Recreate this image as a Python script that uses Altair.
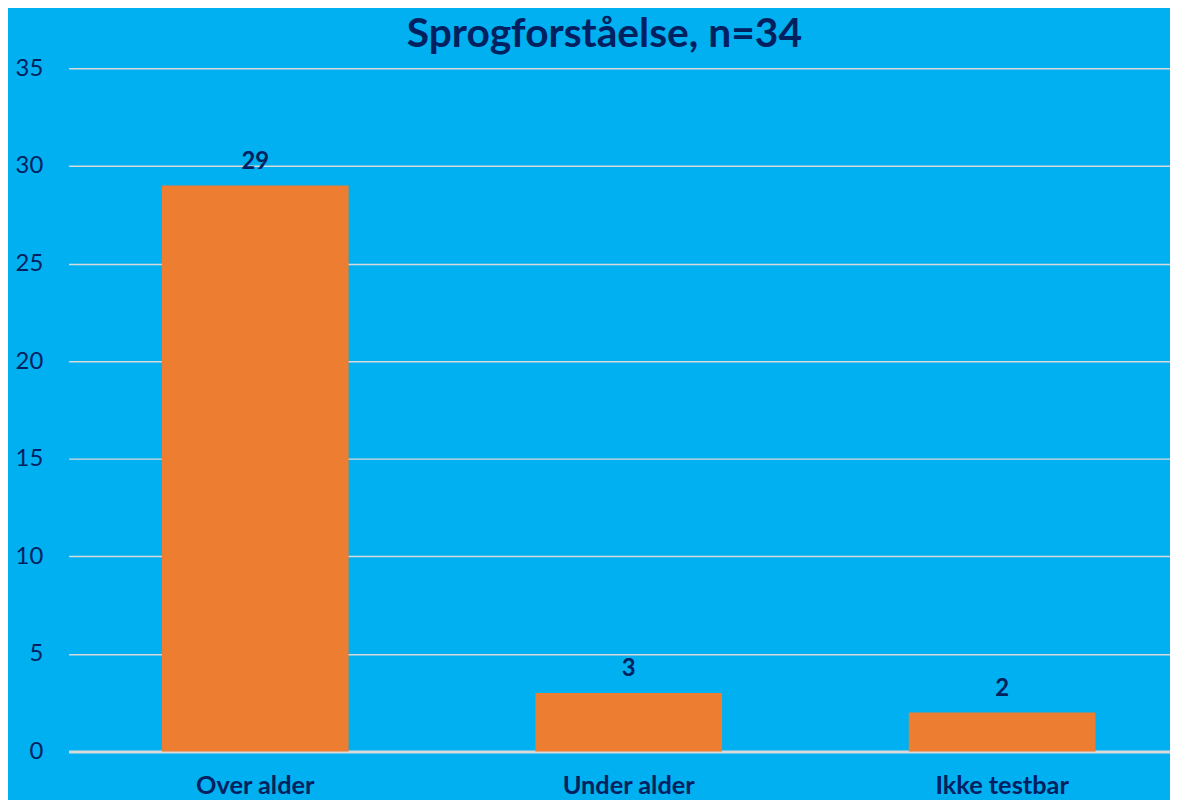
import altair as alt
import pandas as pd

categories = ["Over alder", "Under alder", "Ikke testbar"]
values = [29, 3, 2]

df = pd.DataFrame({"kategori": categories, "antal": values})

NAVY = "#002060"
BG = "#00B0F0"
ORANGE = "#ED7D31"
FONT = "Lato"

x = alt.X(
    "kategori:N",
    sort=categories,
    title=None,
    scale=alt.Scale(paddingInner=0.5, paddingOuter=0.2247, align=0.556),
    axis=alt.Axis(
        labelAngle=0,
        labelFont=FONT,
        labelFontSize=25.5,
        labelFontWeight="bold",
        labelColor=NAVY,
        labelBaseline="alphabetic",
        labelPadding=42,
        ticks=False,
        domain=True,
        domainColor="#D9D9D9",
        domainWidth=3,
        grid=False,
    ),
)
y = alt.Y(
    "antal:Q",
    title=None,
    scale=alt.Scale(domain=[0, 35], nice=False),
    axis=alt.Axis(
        values=[0, 5, 10, 15, 20, 25, 30, 35],
        labelFont=FONT,
        labelFontSize=24,
        labelColor=NAVY,
        labelPadding=26,
        ticks=False,
        domain=False,
        grid=True,
        gridColor="#D9D9D9",
        gridWidth=1.5,
    ),
)

bars = alt.Chart(df).mark_bar(color=ORANGE).encode(x=x, y=y)
labels = alt.Chart(df).mark_text(
    font=FONT, fontSize=24, fontWeight="bold", color=NAVY, baseline="alphabetic", dy=-17
).encode(x=alt.X("kategori:N", sort=categories), y="antal:Q", text="antal:Q")

chart = (
    alt.layer(bars, labels)
    .properties(
        width=1109,
        height=688,
        background=BG,
        padding={"left": 61, "top": 58, "right": 0, "bottom": 46},
        autosize=alt.AutoSizeParams(type="none"),
        title=alt.TitleParams(
            "Sprogforståelse, n=34",
            font=FONT,
            fontSize=41,
            fontWeight="bold",
            color=NAVY,
            anchor="middle",
            dx=-15,
            offset=0,
        ),
    )
    .configure_view(stroke=None)
)

chart.save("out.html", embed_options={"renderer": "svg", "actions": False})
